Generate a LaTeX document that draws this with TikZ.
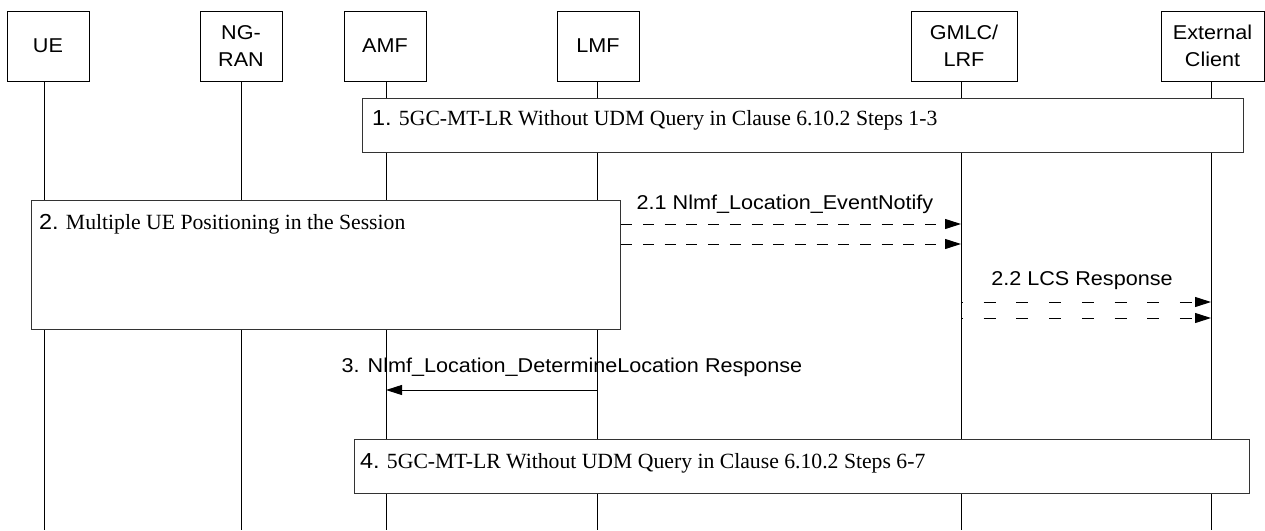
\documentclass[tikz,border=0pt]{standalone}
\usepackage{fontspec}
\setmainfont{Liberation Serif}
\newfontfamily\arialf[FakeStretch=1.08]{Liberation Sans}
\usetikzlibrary{arrows.meta}

\begin{document}
\begin{tikzpicture}[x=1pt,y=-1pt,
  hdr/.style={draw, line width=1pt, minimum height=70pt, inner sep=0pt, align=center,
    font=\arialf\fontsize{20}{27}\selectfont},
  life/.style={line width=1pt},
  grp/.style={draw=black!80, line width=1.3pt, fill=white, inner sep=0pt, anchor=north west},
  grptxt/.style={anchor=base west, inner sep=0pt, font=\fontsize{21.7}{26}\selectfont},
  msg/.style={anchor=base, inner sep=0pt, font=\arialf\fontsize{20}{24}\selectfont},
  arr/.style={line width=1pt, -{Triangle[length=16pt,width=10pt]}},
  dashA/.style={dash pattern=on 11pt off 10.7pt},
  dashB/.style={dash pattern=on 12pt off 20.7pt, dash phase=10pt},
]
\useasboundingbox (0,0) rectangle (1265,530);

% header boxes
\node[hdr, minimum width=82pt]  (ue)   at (48,46)     {UE};
\node[hdr, minimum width=82pt]  (ng)   at (241,46)    {NG-\\RAN};
\node[hdr, minimum width=82pt]  (amf)  at (385,46)    {AMF};
\node[hdr, minimum width=82pt]  (lmf)  at (598,46)    {LMF};
\node[hdr, minimum width=106pt] (gmlc) at (964,46)    {GMLC/\\LRF};
\node[hdr, minimum width=103pt] (ext)  at (1212.5,46) {External\\Client};

% lifelines
\foreach \n/\x in {ue/44, ng/241, amf/386, lmf/597, gmlc/961, ext/1211} {
  \coordinate (\n T) at (\x,81);
  \coordinate (\n B) at (\x,530);
  \draw[life] (\n T) -- (\n B);
}

% group boxes
\node[grp, minimum width=881pt, minimum height=54pt] (b1) at (362,98) {};
\node[grptxt] (t1) at ([shift={(10pt,-27pt)}]b1.north west)
  {{\arialf 1.} 5GC-MT-LR Without UDM Query in Clause 6.10.2 Steps 1-3};

\node[grp, minimum width=589pt, minimum height=129pt] (b2) at (31,200) {};
\node[grptxt] (t2) at ([shift={(8pt,-29pt)}]b2.north west)
  {{\arialf 2.} Multiple UE Positioning in the Session};

\node[grp, minimum width=895pt, minimum height=54pt] (b4) at (354,439) {};
\node[grptxt] (t4) at ([shift={(6pt,-29pt)}]b4.north west)
  {{\arialf 4.} 5GC-MT-LR Without UDM Query in Clause 6.10.2 Steps 6-7};

% message 2.1
\node[msg] (l21) at (785,209) {2.1 Nlmf\_Location\_EventNotify};
\draw[arr, dashA] (b2.north east |- 0,224) -- (gmlcT |- 0,224);
\draw[arr, dashA] (b2.north east |- 0,244) -- (gmlcT |- 0,244);

% message 2.2
\node[msg] (l22) at (1082,285) {2.2 LCS Response};
\draw[arr, dashB] (gmlcT |- 0,302) -- (extT |- 0,302);
\draw[arr, dashB] (gmlcT |- 0,318) -- (extT |- 0,318);

% message 3
\node[msg] (l3) at (572,372) {3. Nlmf\_Location\_DetermineLocation Response};
\draw[arr] (lmfT |- 0,390) -- (amfT |- 0,390);
\end{tikzpicture}
\end{document}
